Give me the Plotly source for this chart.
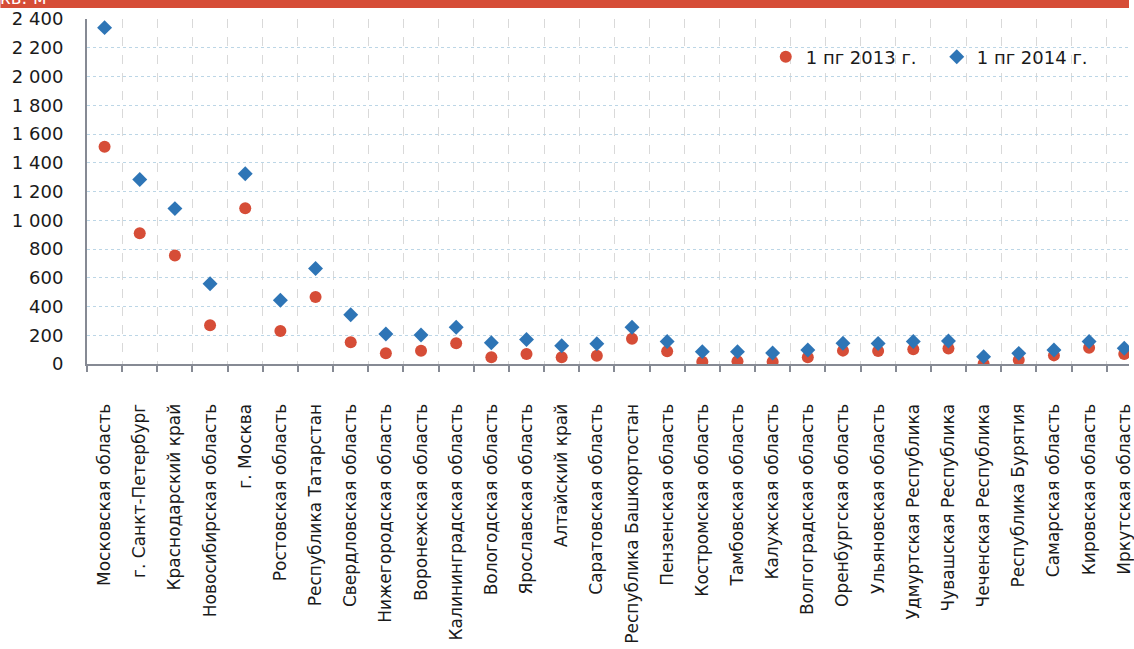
import plotly.graph_objects as go

# Регионы и объёмы (тыс. кв. м) за первое полугодие
regions = [
    "Московская область", "г. Санкт-Петербург", "Краснодарский край",
    "Новосибирская область", "г. Москва", "Ростовская область",
    "Республика Татарстан", "Свердловская область", "Нижегородская область",
    "Воронежская область", "Калининградская область", "Вологодская область",
    "Ярославская область", "Алтайский край", "Саратовская область",
    "Республика Башкортостан", "Пензенская область", "Костромская область",
    "Тамбовская область", "Калужская область", "Волгоградская область",
    "Оренбургская область", "Ульяновская область", "Удмуртская Республика",
    "Чувашская Республика", "Чеченская Республика", "Республика Бурятия",
    "Самарская область", "Кировская область", "Иркутская область",
]

h1_2013 = [1512, 910, 754, 270, 1084, 230, 466, 151, 75, 92, 145, 47, 70, 47,
           58, 176, 88, 16, 20, 16, 47, 93, 91, 102, 108, 2, 28, 60, 113, 70]
h1_2014 = [2340, 1284, 1081, 558, 1324, 444, 664, 342, 209, 202, 255, 148, 170,
           127, 141, 256, 156, 86, 86, 76, 98, 144, 143, 156, 160, 51, 74, 98,
           156, 109]

y_ticks = list(range(0, 2401, 200))

RED = "#D64D37"
BLUE = "#2E75B6"
AXIS = "#868A94"
FONT = "DejaVu Sans, Verdana, sans-serif"

W, H = 1134, 649
L, R, T, B = 87, 0, 19, 285
plot_w = W - L - R
plot_h = H - T - B
cat_px = 35.33

fig = go.Figure()
fig.add_trace(go.Scatter(
    x=regions, y=h1_2013, mode="markers", name="1 пг 2013 г.",
    marker=dict(symbol="circle", size=12, color=RED),
))
fig.add_trace(go.Scatter(
    x=regions, y=h1_2014, mode="markers", name="1 пг 2014 г.",
    marker=dict(symbol="diamond", size=11.5, color=BLUE),
))

# white panel behind the legend
fig.add_shape(type="rect", xref="paper", yref="paper",
              x0=(740 - L) / plot_w, x1=1.0,
              y0=1 - (75 - T) / plot_h, y1=1 - (37 - T) / plot_h,
              fillcolor="white", line=dict(width=0), layer="between")

# red header strip with the unit caption
fig.add_shape(type="rect", xref="paper", yref="paper",
              x0=-L / plot_w, x1=1.0,
              y0=1 + (T - 8) / plot_h, y1=1 + (T + 10) / plot_h,
              fillcolor=RED, line=dict(width=0), layer="above")
fig.add_annotation(text="кв. м", xref="paper", yref="paper",
                   x=(-L - 2) / plot_w, y=1 + (T - 10) / plot_h,
                   xanchor="left", yanchor="bottom", showarrow=False,
                   font=dict(family=FONT, size=18, color="white"))

fig.update_layout(
    width=W, height=H,
    margin=dict(l=L, r=R, t=T, b=B, pad=0),
    paper_bgcolor="white", plot_bgcolor="white",
    separators=", ",
    font=dict(family=FONT, size=17, color="#1a1a1a"),
    showlegend=True,
    legend=dict(
        orientation="h", x=(769 - L) / plot_w, y=1 - (57 - T) / plot_h,
        xanchor="left", yanchor="middle",
        bgcolor="rgba(0,0,0,0)", font=dict(family=FONT, size=18),
        itemwidth=30, entrywidth=126, entrywidthmode="pixels",
    ),
)

fig.update_xaxes(
    type="category", range=[-0.5, -0.5 + plot_w / cat_px],
    tickson="boundaries", ticks="outside", ticklen=6, tickwidth=2,
    tickcolor=AXIS, tickangle=-90, ticklabelstandoff=31,
    showline=True, linecolor=AXIS, linewidth=2,
    showgrid=True, gridcolor="#D9D9D9", griddash="dash", gridwidth=1,
    tickfont=dict(family=FONT, size=17, color="#1a1a1a"),
)
fig.update_yaxes(
    range=[0, 2400], tickmode="array", tickvals=y_ticks, tickformat=",d",
    ticks="", ticklabelstandoff=18,
    showline=True, linecolor=AXIS, linewidth=2,
    showgrid=True, gridcolor="#BCD6E6", griddash="dot", gridwidth=1,
    zeroline=False,
    tickfont=dict(family=FONT, size=18, color="#1a1a1a"),
)

fig.write_html("out.html")
